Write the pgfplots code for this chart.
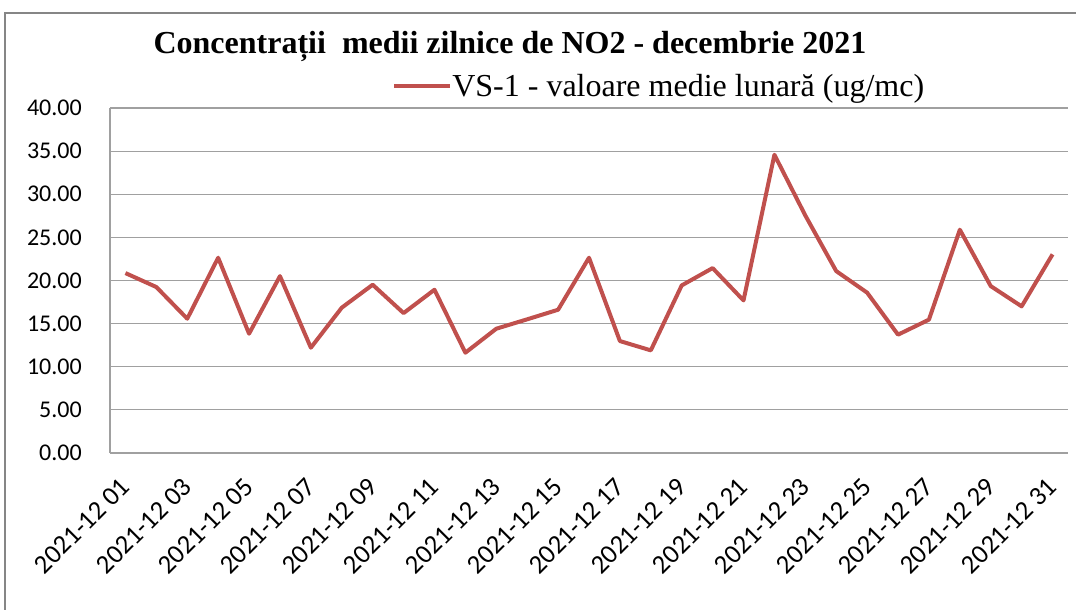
\documentclass[border=0pt]{standalone}
\usepackage{fontspec}
\setmainfont{Liberation Serif}
\newfontfamily\calibri{Carlito}
\usepackage{pgfplots}
\pgfplotsset{compat=1.18}
\usepackage{pgfplotstable}

\definecolor{serie}{RGB}{192,80,77}
\definecolor{gridcol}{RGB}{160,160,160}
\definecolor{framecol}{RGB}{134,134,134}

\pgfplotstableread{
day value
1  20.86
2  19.24
3  15.57
4  22.64
5  13.83
6  20.51
7  12.21
8  16.85
9  19.51
10 16.22
11 18.93
12 11.63
13 14.41
14 15.50
15 16.61
16 22.64
17 12.98
18 11.90
19 19.43
20 21.44
21 17.69
22 34.58
23 27.54
24 21.09
25 18.59
26 13.72
27 15.46
28 25.89
29 19.35
30 17.00
31 23.03
}\datatable

\begin{document}
\begin{tikzpicture}
  % picture size: 1076x610 px at 0.75pt/px, plot box at origin
  \path[use as bounding box] (-82.5pt,-117.75pt) rectangle (724.5pt,339.75pt);
  \draw[framecol, line width=1.6pt] (-78.75pt,-117.75pt) -- (-78.75pt,330pt) -- (724.5pt,330pt);
  \begin{axis}[
      scale only axis,
      width=718.5pt, height=258.75pt,
      xmin=0.5, xmax=31.5,
      ymin=0, ymax=40,
      ytick={0,5,...,40},
      xtick={1,3,...,31},
      xticklabels={2021-12 01,2021-12 03,2021-12 05,2021-12 07,2021-12 09,2021-12 11,
        2021-12 13,2021-12 15,2021-12 17,2021-12 19,2021-12 21,2021-12 23,2021-12 25,
        2021-12 27,2021-12 29,2021-12 31},
      axis x line*=bottom, axis y line*=left,
      axis line style={-, gridcol, line width=0.9pt},
      major tick length=0pt,
      ymajorgrids, grid style={gridcol, line width=0.9pt},
      yticklabel style={font=\calibri\fontsize{18}{20}\selectfont, anchor=east, inner sep=0pt,
        /pgf/number format/.cd, fixed, fixed zerofill, precision=2, assume math mode=true},
      yticklabel shift=21pt,
      xticklabel style={font=\calibri\fontsize{20}{22}\selectfont, rotate=45, anchor=east, inner sep=0pt},
      xticklabel shift=22pt,
      title={Concentrații\ \ medii zilnice de NO2 - decembrie 2021},
      title style={at={(0.4175,1.1362)}, anchor=base, inner sep=0pt,
        font=\bfseries\fontsize{24}{26}\selectfont},
      legend style={at={(0.2944,1.0638)}, anchor=west, draw=none, fill=none,
        inner sep=0pt, font=\fontsize{24}{26}\selectfont,
        nodes={inner sep=0pt}},
      legend image code/.code={\draw[#1, line width=3pt] (0pt,0pt) -- (42pt,0pt);},
      legend cell align=left,
    ]
    \addplot[serie, line width=3pt, line join=round, no marks] table[x=day, y=value] {\datatable};
    \addlegendentry{VS-1 - valoare medie lunară (ug/mc)}
  \end{axis}
\end{tikzpicture}
\end{document}
